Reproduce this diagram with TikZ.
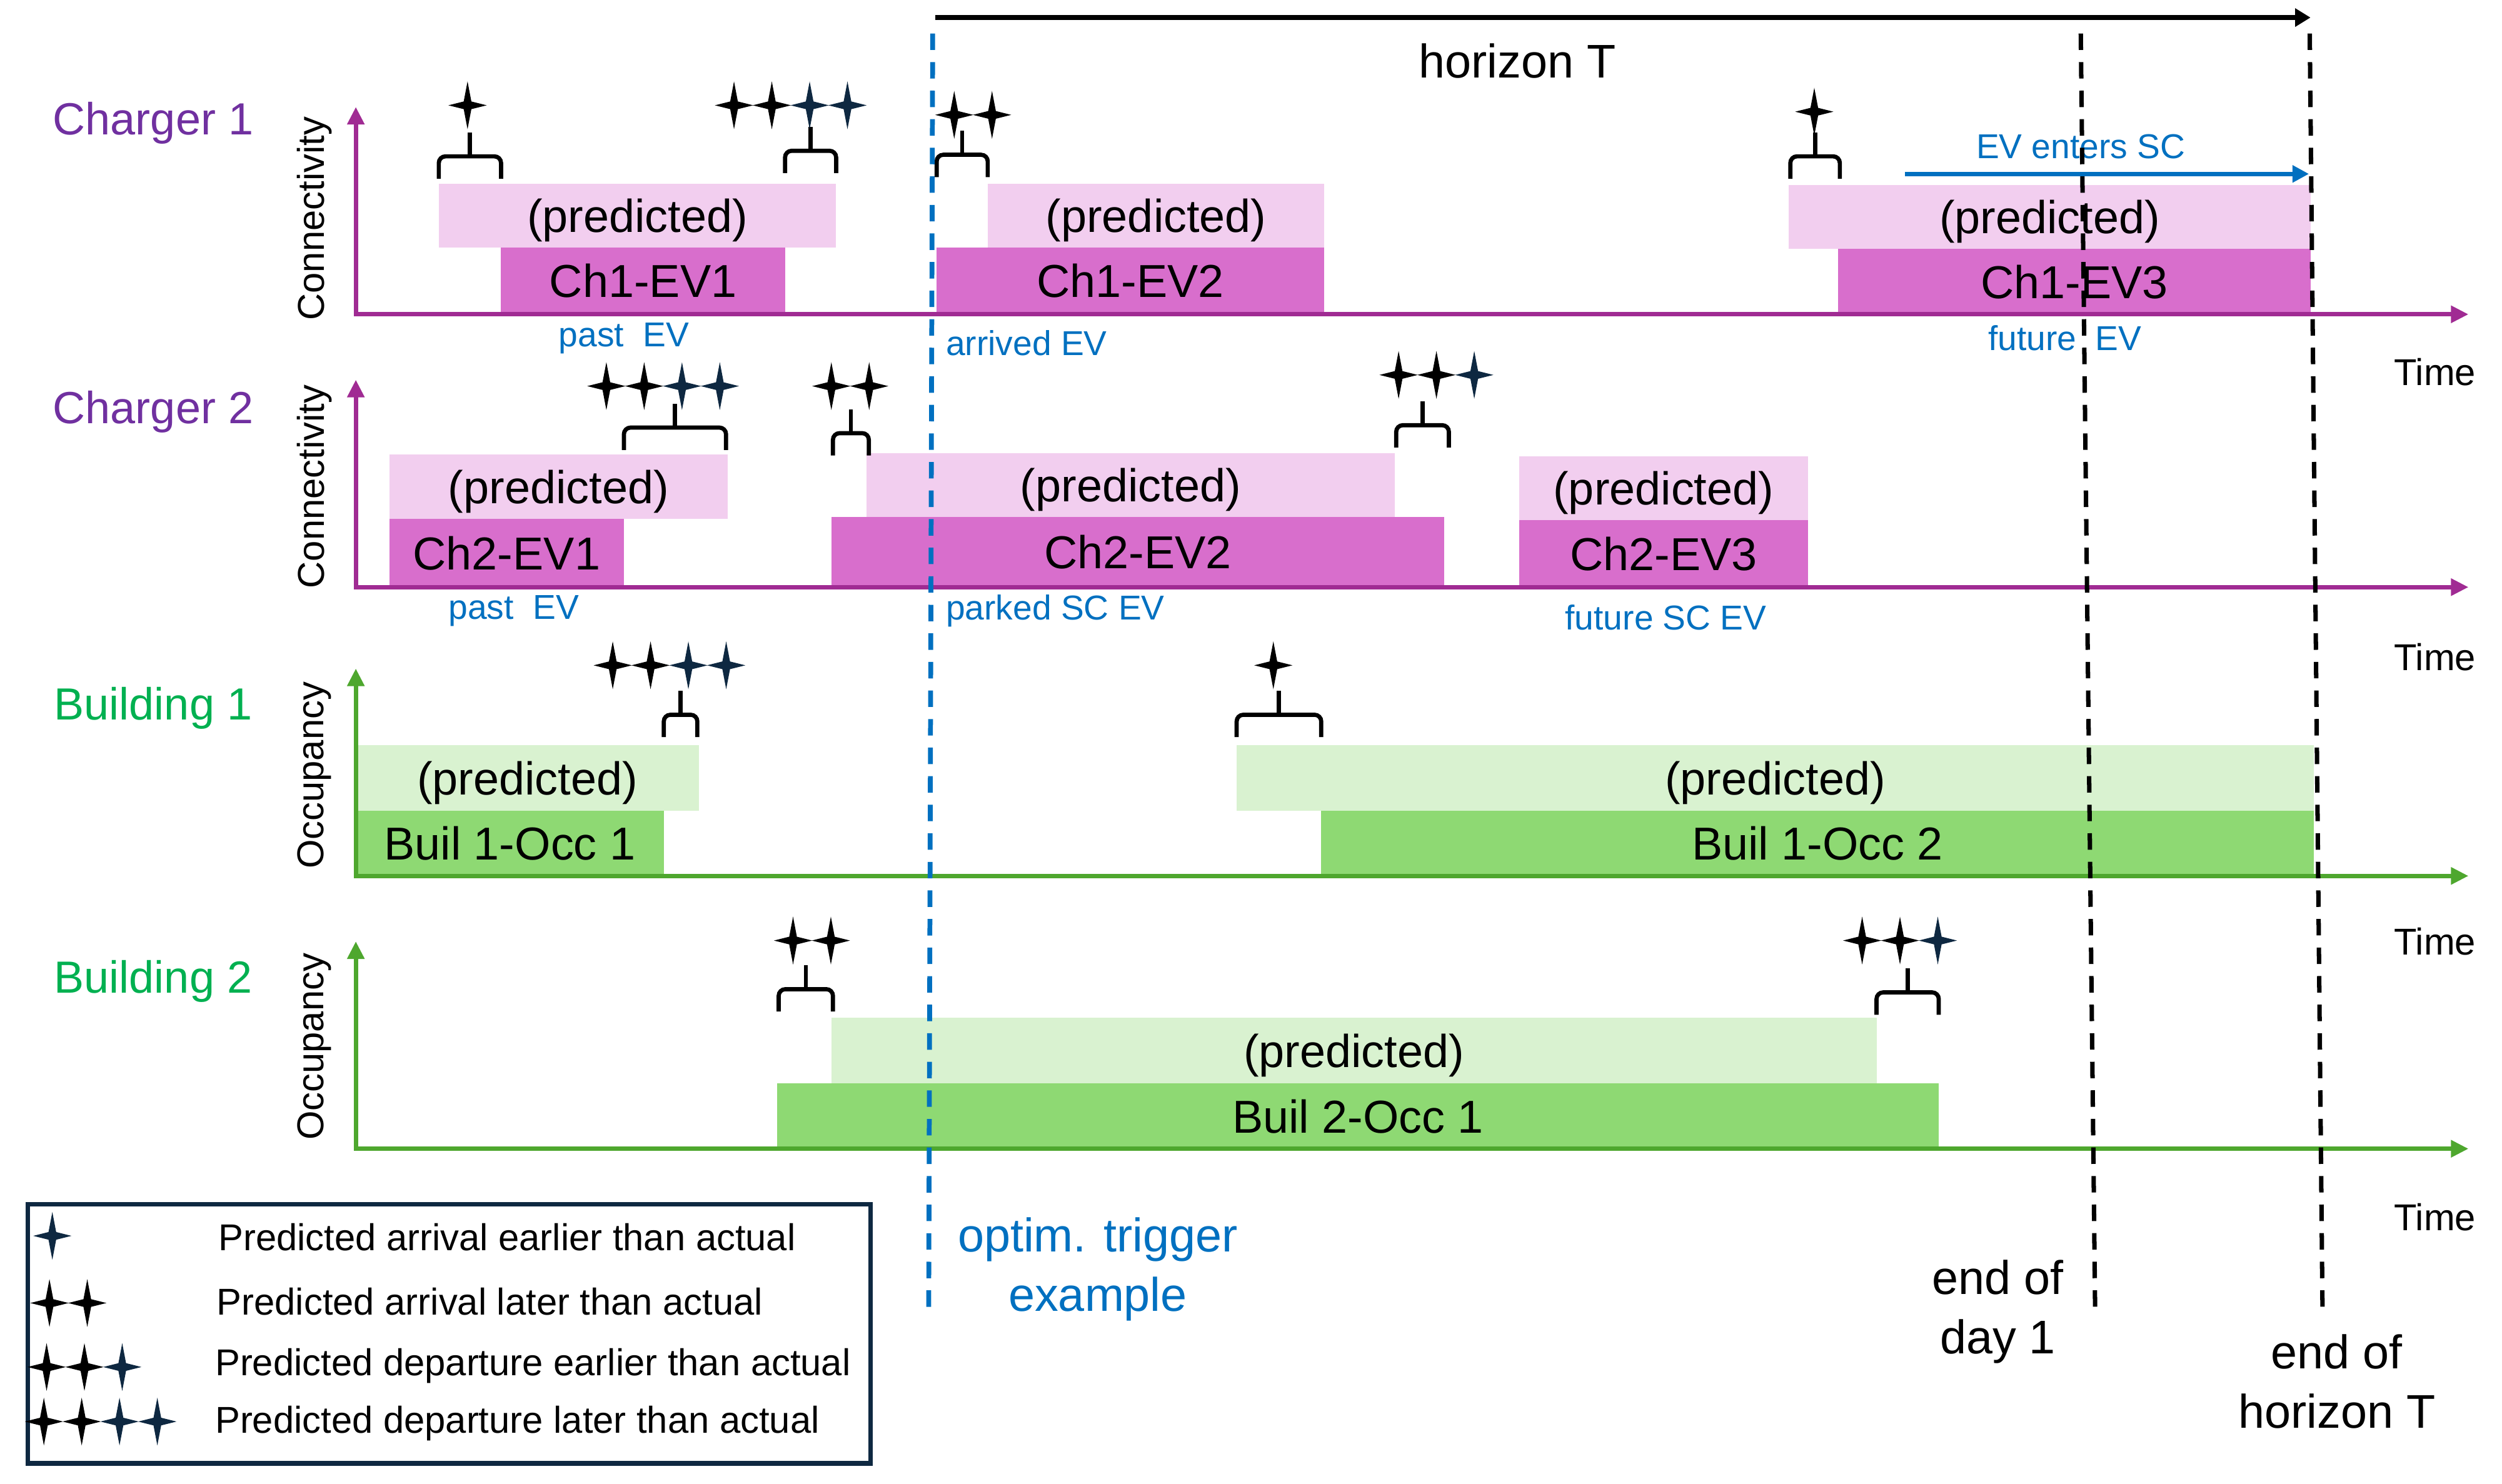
\documentclass[tikz,border=0pt]{standalone}
\usepackage{fontspec}
\setmainfont{Liberation Sans}
\usetikzlibrary{arrows.meta}

\definecolor{chpurple}{HTML}{7030A0}
\definecolor{chaxis}{HTML}{A02B93}
\definecolor{chpred}{HTML}{F2CEEF}
\definecolor{chreal}{HTML}{D86ECC}
\definecolor{bugreen}{HTML}{00B050}
\definecolor{buaxis}{HTML}{4EA72E}
\definecolor{bupred}{HTML}{D9F2D0}
\definecolor{bureal}{HTML}{8ED973}
\definecolor{evblue}{HTML}{0070C0}
\definecolor{starnavy}{HTML}{0E2841}

\tikzset{
  spark/.pic={\fill[fill=#1] (0,15) -- (2.4,2.4) -- (12,0) -- (2.4,-2.4) -- (0,-15) -- (-2.4,-2.4) -- (-12,0) -- (-2.4,2.4) -- cycle;},
  bracepen/.style={line width=1.9pt, rounded corners=3pt},
  timeaxis/.style={line width=2pt, {Triangle[length=8pt,width=7.5pt]}-{Triangle[length=8pt,width=7.5pt]}},
  slottext/.style={text depth=0pt, font=\fontsize{21}{25}\selectfont},
  grouplabel/.style={font=\fontsize{20.5}{24}\selectfont},
  sidelabel/.style={rotate=90, font=\fontsize{17}{20}\selectfont},
  timelabel/.style={font=\fontsize{17}{20}\selectfont},
  evnote/.style={text=evblue, font=\fontsize{15.7}{19}\selectfont},
  marker/.style={align=center, font=\fontsize{21.5}{27}\selectfont},
  legendtext/.style={anchor=west, font=\fontsize{17}{20}\selectfont},
  dayline/.style={line width=2pt, dash pattern=on 7.5pt off 5.5pt},
  trigline/.style={evblue, line width=2.2pt, dash pattern=on 7.5pt off 5.5pt}
}

\newcommand{\sparkrow}[3]{\foreach \sc [count=\si from 0] in {#3} \pic at ({#1+23.7*\si},#2) {spark=\sc};}
\newcommand{\gapbrace}[3]{%
  \draw[bracepen] (#1,#3) |- ({(#1+#2)/2},#3-14) -| (#2,#3);
  \draw[bracepen] ({(#1+#2)/2},#3-14) -- ++(0,-15);}

\begin{document}
\begin{tikzpicture}[x=0.2552mm,y=-0.2552mm,line cap=butt]
  \useasboundingbox (0,0) rectangle (1568,930);
  % sessions: predicted and actual
  \foreach \xa/\xb/\ya/\yb/\col/\txt/\nm in {
    275/524/115/155/chpred/(predicted)/p11, 314/492/155/197/chreal/Ch1-EV1/a11,
    619/830/115/155/chpred/(predicted)/p12, 587/830/155/197/chreal/Ch1-EV2/a12,
    1121/1448/116/156/chpred/(predicted)/p13, 1152/1448/156/197/chreal/Ch1-EV3/a13,
    244/456/285/325/chpred/(predicted)/p21, 244/391/325/368/chreal/Ch2-EV1/a21,
    543/874/284/324/chpred/(predicted)/p22, 521/905/324/368/chreal/Ch2-EV2/a22,
    952/1133/286/326/chpred/(predicted)/p23, 952/1133/326/368/chreal/Ch2-EV3/a23,
    223/438/467/508/bupred/(predicted)/p31, 223/416/508/549/bureal/Buil 1-Occ 1/a31,
    775/1450/467/508/bupred/(predicted)/p32, 828/1450/508/549/bureal/Buil 1-Occ 2/a32,
    521/1176/638/679/bupred/(predicted)/p41, 487/1215/679/720/bureal/Buil 2-Occ 1/a41
  } {
    \fill[fill=\col] (\xa,\ya) rectangle (\xb,\yb);
    \node[slottext] (\nm) at ({(\xa+\xb)/2},{(\ya+\yb)/2}) {\txt};
  }
  % axes
  \foreach \ya/\col/\lab/\labcol/\lay/\side/\sy/\ty/\nm in {
    197/chaxis/Charger 1/chpurple/77/Connectivity/137/233/ch1,
    368/chaxis/Charger 2/chpurple/258/Connectivity/305/412/ch2,
    549/buaxis/Building 1/bugreen/444/Occupancy/486/590/bu1,
    720/buaxis/Building 2/bugreen/615/Occupancy/656/763/bu2
  } {
    \coordinate (\nm-o) at (223,\ya);
    \coordinate (\nm-top) at (223,\ya-130);
    \coordinate (\nm-end) at (1547,\ya);
    \draw[timeaxis, draw=\col] (\nm-top) -- (\nm-o) -- (\nm-end);
    \node[grouplabel, text=\labcol] (\nm-name) at (96,\lay) {\lab};
    \node[sidelabel] (\nm-side) at (197,\sy) {\side};
    \node[timelabel] (\nm-time) at (1526,\ty) {Time};
  }
  % braces and stars
  \gapbrace{275}{314}{112}
  \gapbrace{492}{524}{108.5}
  \gapbrace{587}{619}{111}
  \gapbrace{1122}{1153}{112}
  \gapbrace{391}{455}{282}
  \gapbrace{522}{544.5}{285.5}
  \gapbrace{875}{908}{280.5}
  \gapbrace{416}{437}{462}
  \gapbrace{775}{828}{462}
  \gapbrace{488}{522}{634}
  \gapbrace{1176}{1215}{636}
  \sparkrow{293}{66}{black}
  \sparkrow{460}{66}{black,black,starnavy,starnavy}
  \sparkrow{598}{72}{black,black}
  \sparkrow{1137}{70}{black}
  \sparkrow{380}{242}{black,black,starnavy,starnavy}
  \sparkrow{521}{242}{black,black}
  \sparkrow{876.5}{235}{black,black,starnavy}
  \sparkrow{384}{417}{black,black,starnavy,starnavy}
  \sparkrow{798}{417}{black}
  \sparkrow{497}{589.5}{black,black}
  \sparkrow{1167}{589.5}{black,black,starnavy}
  % EV notes
  \node[evnote] (n11) at (391,212) {past\ \ EV};
  \node[evnote, anchor=west] (n12) at (588,215) {arrived EV};
  \node[evnote] (n13) at (1294,212) {future\ \ EV};
  \node[evnote] (n21) at (322,383) {past\ \ EV};
  \node[evnote, anchor=west] (n22) at (588,383) {parked SC EV};
  \node[evnote] (n23) at (1044,387) {future SC EV};
  \coordinate (entA) at (1194,109);
  \coordinate (entB) at (1447,109);
  \draw[evblue, line width=2pt, -{Triangle[length=7.5pt,width=7.5pt]}] (entA) -- (entB);
  \node[evnote] (enters) at (1304,92) {EV enters SC};
  % horizon
  \coordinate (hzA) at (586,11);
  \coordinate (hzB) at (1448,11);
  \draw[line width=2.2pt, -{Triangle[length=7pt,width=8pt]}] (hzA) -- (hzB);
  \node[marker] (hz) at (951,38) {horizon T};
  % time markers
  \coordinate (trigA) at (584.5,21);
  \coordinate (trigB) at (582,821);
  \draw[trigline] (trigA) -- (trigB);
  \coordinate (dayA) at (1304,21);
  \coordinate (dayB) at (1313,821);
  \draw[dayline] (dayA) -- (dayB);
  \coordinate (endA) at (1447.5,21);
  \coordinate (endB) at (1455.5,821);
  \draw[dayline] (endA) -- (endB);
  \node[marker, text=evblue] (trig) at (688,795.5) {optim. trigger\\example};
  \node[marker] (day) at (1252,822) {end of\\day 1};
  \node[marker] (hend) at (1464.5,866) {end of\\horizon T};
  % legend
  \draw[starnavy, line width=2pt] (17.6,754.7) rectangle (545.4,917.2);
  \sparkrow{32.8}{774.6}{starnavy}
  \sparkrow{31}{816.7}{black,black}
  \sparkrow{29.2}{856.8}{black,black,starnavy}
  \sparkrow{27.5}{891}{black,black,starnavy,starnavy}
  \node[legendtext] (lg1) at (132,775.5) {Predicted arrival earlier than actual};
  \node[legendtext] (lg2) at (131,815.7) {Predicted arrival later than actual};
  \node[legendtext] (lg3) at (130,856) {Predicted departure earlier than actual};
  \node[legendtext] (lg4) at (130,892) {Predicted departure later than actual};
\end{tikzpicture}
\end{document}
